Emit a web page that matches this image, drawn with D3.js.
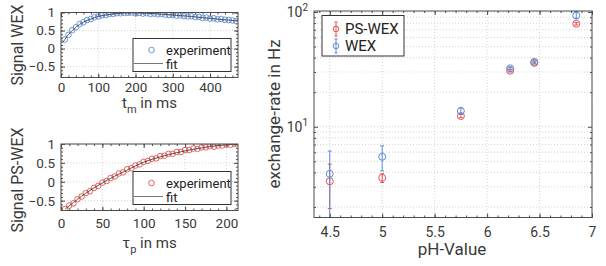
<!DOCTYPE html>
<html><head><meta charset="utf-8">
<script src="https://cdn.jsdelivr.net/npm/d3@7"></script>
<style>
body{margin:0;background:#fff;}
svg{display:block;font-family:Roboto, "Open Sans", sans-serif;}
</style></head>
<body><svg id="c" width="606" height="266"></svg>
<script>
// ---------- DATA ----------
const wexT = [10,20,30,40,50,60,70,80,90,100,110,120,130,140,150,160,170,180,190,200,210,220,230,240,250,260,270,280,290,300,310,320,330,340,350,360,370,380,390,400,410,420,430,440,450,460,470];
const wexSignal = [0.25,0.38,0.51,0.59,0.68,0.73,0.79,0.82,0.87,0.89,0.92,0.93,0.96,0.96,0.98,0.98,0.99,0.99,1.00,0.98,0.99,0.97,0.98,0.96,0.97,0.95,0.96,0.94,0.93,0.93,0.91,0.92,0.90,0.89,0.90,0.87,0.88,0.85,0.86,0.83,0.84,0.81,0.82,0.80,0.79,0.78,0.76];
const wexFitT = [5,10,20,30,40,50,60,80,100,120,140,160,180,200,225,250,275,300,325,350,375,400,425,450,475];
const wexFitV = [0.17,0.25,0.39,0.50,0.59,0.67,0.73,0.82,0.89,0.93,0.96,0.98,0.99,0.99,0.98,0.97,0.95,0.93,0.91,0.89,0.86,0.84,0.81,0.79,0.76];

const psT = [5,10,15,20,25,30,35,40,45,50,55,60,65,70,75,80,85,90,95,100,105,110,115,120,125,130,135,140,145,150,155,160,165,170,175,180,185,190,195,200,205,210];
const psSignal = [-0.72,-0.63,-0.57,-0.46,-0.39,-0.30,-0.25,-0.16,-0.11,-0.02,0.02,0.10,0.14,0.22,0.25,0.33,0.36,0.43,0.46,0.53,0.55,0.61,0.62,0.68,0.69,0.74,0.74,0.79,0.79,0.84,0.84,0.88,0.87,0.91,0.91,0.94,0.93,0.96,0.96,0.99,0.98,1.00];
const psFitT = [5,15,25,35,50,65,80,100,120,140,160,180,200,212];
const psFitV = [-0.72,-0.55,-0.38,-0.23,-0.03,0.15,0.31,0.52,0.66,0.77,0.86,0.93,0.98,1.00];

const ph = [4.5, 5, 5.75, 6.22, 6.45, 6.85];
const psRate = [3.35, 3.59, 12.4, 30.8, 36.0, 79];
const psLow  = [1.94, 3.27, 12.0, 30.0, 35.3, 77];
const psHigh = [4.73, 3.89, 12.8, 31.6, 36.7, 81];
const wexRate = [3.89, 5.48, 13.7, 32.3, 36.8, 93];
const wexLow  = [1.0, 4.13, 13.0, 31.3, 36.0, 88];
const wexHigh = [6.14, 6.82, 14.6, 33.3, 37.6, 101];

const topXTicks = [0,100,200,300,400];
const botXTicks = [0,50,100,150,200];
const sigYTicks = [-0.5,0,0.5,1];
const phTicks = [4.5,5,5.5,6,6.5,7];
const rateTicks = [10,100];

// ---------- STYLE ----------
const BLUE = "#5b8bd4", RED = "#e2534f", TXT = "#3a3a3a", BOX = "#4d4d4d", GRID = "#c8c8c8";
const svg = d3.select("#c");

function frame(x, y, opt) {
  const [x0, x1] = x.range(), [y0, y1] = y.range(); // y0 bottom, y1 top
  const g = svg.append("g");
  const gg = g.append("g").attr("stroke", GRID).attr("stroke-dasharray", "1,2").attr("stroke-width", 0.8);
  opt.xGrid.forEach(v => gg.append("line").attr("x1", x(v)).attr("x2", x(v)).attr("y1", y1).attr("y2", y0));
  opt.yGrid.forEach(v => gg.append("line").attr("y1", y(v)).attr("y2", y(v)).attr("x1", x0).attr("x2", x1));
  const fs = opt.fs || 13.5;
  const style = s => { s.select(".domain").remove(); s.selectAll("line").attr("stroke", BOX); s.selectAll("text").attr("fill", TXT).attr("font-size", fs).attr("font-family", "Roboto"); };
  g.append("g").attr("transform", `translate(0,${y0})`).call(d3.axisBottom(x).tickValues(opt.xTicks).tickSizeInner(-4).tickSizeOuter(0).tickPadding(opt.xPad || 7).tickFormat(opt.xFmt || d3.format(""))).call(style);
  g.append("g").attr("transform", `translate(0,${y1})`).call(d3.axisTop(x).tickValues(opt.xTicks).tickSizeInner(-4).tickSizeOuter(0).tickFormat("")).call(style);
  g.append("g").attr("transform", `translate(0,${y0})`).call(d3.axisBottom(x).tickValues(opt.xMinor).tickSizeInner(-2).tickSizeOuter(0).tickFormat("")).call(style);
  g.append("g").attr("transform", `translate(0,${y1})`).call(d3.axisTop(x).tickValues(opt.xMinor).tickSizeInner(-2).tickSizeOuter(0).tickFormat("")).call(style);
  const ya = g.append("g").attr("transform", `translate(${x0},0)`).call(d3.axisLeft(y).tickValues(opt.yTicks).tickSizeInner(-4).tickSizeOuter(0).tickPadding(6).tickFormat(opt.yFmt || d3.format(""))).call(style);
  g.append("g").attr("transform", `translate(${x1},0)`).call(d3.axisRight(y).tickValues(opt.yTicks).tickSizeInner(-4).tickSizeOuter(0).tickFormat("")).call(style);
  g.append("g").attr("transform", `translate(${x0},0)`).call(d3.axisLeft(y).tickValues(opt.yMinor).tickSizeInner(-2).tickSizeOuter(0).tickFormat("")).call(style);
  g.append("g").attr("transform", `translate(${x1},0)`).call(d3.axisRight(y).tickValues(opt.yMinor).tickSizeInner(-2).tickSizeOuter(0).tickFormat("")).call(style);
  if (opt.yLog) {
    ya.selectAll(".tick text").text(null).each(function(d){
      const t = d3.select(this);
      t.append("tspan").text("10");
      t.append("tspan").attr("dy", -6).attr("font-size", 10).text(String(Math.round(Math.log10(d))));
    });
  }
  return g;
}

function box(x, y, g) {
  const [x0, x1] = x.range(), [y0, y1] = y.range();
  g.append("rect").attr("x", x0).attr("y", y1).attr("width", x1 - x0).attr("height", y0 - y1)
    .attr("fill", "none").attr("stroke", BOX).attr("stroke-width", 1);
}

function signalPanel(T, V, FT, FV, color, xDom, yDom, yTop, yBot, xTicks, xMinor, ylabel, xsym, xPad, labOff, ylabC) {
  const x = d3.scaleLinear().domain(xDom).range([61, 238]);
  const y = d3.scaleLinear().domain(yDom).range([yBot, yTop]);
  frame(x, y, {xTicks, xMinor, yTicks: sigYTicks, yMinor: d3.range(-7, 11).map(v => v / 10).filter(v => v >= yDom[0] && v <= yDom[1]),
    xGrid: xTicks, yGrid: sigYTicks, yFmt: d3.format(""), xPad});
  const clipId = "clip" + Math.round(yTop);
  svg.append("clipPath").attr("id", clipId).append("rect").attr("x", 61).attr("y", yTop).attr("width", 177).attr("height", yBot - yTop);
  const pg = svg.append("g").attr("clip-path", `url(#${clipId})`);
  pg.selectAll("circle").data(T).join("circle").attr("cx", (d) => x(d)).attr("cy", (d, i) => y(V[i])).attr("r", 2.8)
    .attr("fill", "none").attr("stroke", color).attr("stroke-width", 0.9);
  pg.append("path").datum(FT).attr("d", d3.line().x(d => x(d)).y((d, i) => y(FV[i])).curve(d3.curveMonotoneX))
    .attr("fill", "none").attr("stroke", "#333").attr("stroke-width", 0.8);
  box(x, y, svg);
  const ly = yBot - 39;
  const lg = svg.append("g");
  lg.append("rect").attr("x", 133).attr("y", ly).attr("width", 98).attr("height", 33).attr("fill", "#fff").attr("stroke", "#333").attr("stroke-width", 1);
  lg.append("circle").attr("cx", 151.5).attr("cy", ly + 11.5).attr("r", 2.8).attr("fill", "none").attr("stroke", color).attr("stroke-width", 0.9);
  lg.append("line").attr("x1", 134).attr("x2", 163).attr("y1", ly + 25).attr("y2", ly + 25).attr("stroke", "#777").attr("stroke-width", 1);
  lg.append("text").attr("x", 166).attr("y", ly + 16).attr("font-size", 13).attr("fill", "#222").text("experiment");
  lg.append("text").attr("x", 166).attr("y", ly + 30).attr("font-size", 13).attr("fill", "#222").text("fit");
  svg.append("text").attr("transform", `translate(23,${ylabC}) rotate(-90)`).attr("text-anchor", "middle")
    .attr("font-size", 16).attr("fill", TXT).text(ylabel);
  const xl = svg.append("text").attr("x", 149.5).attr("y", yBot + labOff).attr("text-anchor", "middle").attr("font-size", 15).attr("fill", TXT);
  xl.append("tspan").text(xsym[0]);
  xl.append("tspan").attr("dy", 5).attr("font-size", 11).text(xsym[1]);
  xl.append("tspan").attr("dy", -5).text(" in ms");
}

signalPanel(wexT, wexSignal, wexFitT, wexFitV, BLUE, [0, 475], [-0.8, 1], 12.5, 77.5, topXTicks, d3.range(0, 476, 20), "Signal WEX", ["t", "m"], 5, 30, 45);
signalPanel(psT, psSignal, psFitT, psFitV, RED, [0, 214], [-0.76, 1], 144, 210.5, botXTicks, d3.range(0, 215, 10), "Signal PS-WEX", ["\u03C4", "p"], 8, 37.5, 180);

// ---------- RIGHT PANEL ----------
const xr = d3.scaleLinear().domain([4.35, 7]).range([314, 592]);
const yr = d3.scaleLog().domain([1.62, 102]).range([217.5, 11]);
const rMinor = [2,3,4,5,6,7,8,9,20,30,40,50,60,70,80,90];
frame(xr, yr, {xTicks: phTicks, xMinor: d3.range(44, 71).map(v => v / 10), yTicks: rateTicks, yMinor: rMinor,
  xGrid: phTicks, yGrid: rMinor.concat(rateTicks), xFmt: d3.format(""), yLog: true, xPad: 10, fs: 14});
svg.append("clipPath").attr("id", "clipR").append("rect").attr("x", 314).attr("y", 11).attr("width", 278).attr("height", 206.5);
const rg = svg.append("g").attr("clip-path", "url(#clipR)");
function errSeries(vals, lo, hi, color) {
  const s = rg.append("g").attr("stroke", color).attr("fill", "none").attr("stroke-width", 1);
  ph.forEach((p, i) => {
    const cx = xr(p);
    s.append("line").attr("x1", cx).attr("x2", cx).attr("y1", yr(lo[i])).attr("y2", yr(hi[i]));
    [lo[i], hi[i]].forEach(v => s.append("line").attr("x1", cx - 2).attr("x2", cx + 2).attr("y1", yr(v)).attr("y2", yr(v)));
    s.append("circle").attr("cx", cx).attr("cy", yr(vals[i])).attr("r", 3.5);
  });
}
errSeries(psRate, psLow, psHigh, RED);
errSeries(wexRate, wexLow, wexHigh, BLUE);
box(xr, yr, svg);
const L = svg.append("g");
L.append("rect").attr("x", 322).attr("y", 15.5).attr("width", 82).attr("height", 40.5).attr("fill", "#fff").attr("stroke", "#333");
[["PS-WEX", RED, 29], ["WEX", BLUE, 46]].forEach(([t, c, yy]) => {
  const e = L.append("g").attr("stroke", c).attr("fill", "none");
  e.append("line").attr("x1", 336).attr("x2", 336).attr("y1", yy - 7).attr("y2", yy + 7);
  e.append("line").attr("x1", 334.5).attr("x2", 337.5).attr("y1", yy - 7).attr("y2", yy - 7);
  e.append("line").attr("x1", 334.5).attr("x2", 337.5).attr("y1", yy + 7).attr("y2", yy + 7);
  e.append("circle").attr("cx", 336).attr("cy", yy).attr("r", 2.8);
  L.append("text").attr("x", 345).attr("y", yy + 5).attr("font-size", 15).attr("fill", "#222").text(t);
});
svg.append("text").attr("transform", `translate(280,114) rotate(-90)`).attr("text-anchor", "middle").attr("font-size", 17).attr("fill", TXT).text("exchange-rate in Hz");
svg.append("text").attr("x", 452).attr("y", 255).attr("text-anchor", "middle").attr("font-size", 17).attr("fill", TXT).text("pH-Value");
</script></body></html>
